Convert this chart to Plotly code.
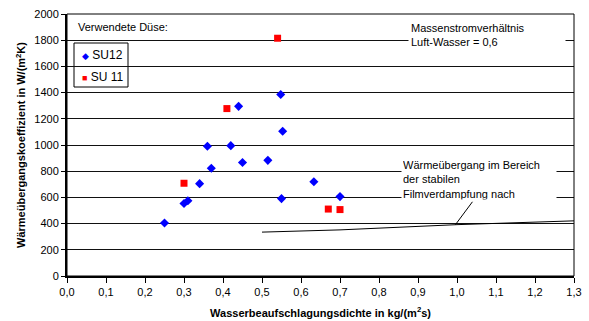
import plotly.graph_objects as go

# SU12 data (blue diamonds)
su12_x = [0.25, 0.30, 0.31, 0.34, 0.36, 0.37, 0.42, 0.44, 0.45, 0.515, 0.548, 0.55, 0.553, 0.633, 0.70]
su12_y = [405, 553, 575, 705, 990, 822, 995, 1295, 866, 883, 1385, 591, 1105, 720, 606]

# SU 11 data (red squares)
su11_x = [0.30, 0.41, 0.54, 0.67, 0.70]
su11_y = [708, 1278, 1815, 511, 507]

# Film boiling reference curve
film_x = [0.5, 0.7, 1.0, 1.3]
film_y = [335, 352, 392, 421]

x_ticks = [0.0, 0.1, 0.2, 0.3, 0.4, 0.5, 0.6, 0.7, 0.8, 0.9, 1.0, 1.1, 1.2, 1.3]
y_ticks = [0, 200, 400, 600, 800, 1000, 1200, 1400, 1600, 1800, 2000]

FONT = "Liberation Sans, Arial, sans-serif"

fig = go.Figure()
fig.add_trace(go.Scatter(
    x=film_x, y=film_y, mode="lines", line=dict(color="black", width=1),
    showlegend=False, hoverinfo="skip"))
fig.add_trace(go.Scatter(
    x=su12_x, y=su12_y, mode="markers", name="SU12", showlegend=False,
    marker=dict(symbol="diamond", color="#0000FF", size=7, line=dict(width=0))))
fig.add_trace(go.Scatter(
    x=su11_x, y=su11_y, mode="markers", name="SU 11", showlegend=False,
    marker=dict(symbol="square", color="#FF0000", size=7, line=dict(width=0))))

# plot area in px: left 67, right 574, top 14, bottom 276
def px(x):
    return (x - 67) / 507.0

def py(y):
    return (276 - y) / 262.0

fig.update_layout(
    width=589, height=321,
    margin=dict(l=67, r=15, t=14, b=45),
    paper_bgcolor="white", plot_bgcolor="white",
    separators=",.",
    font=dict(family=FONT, size=11, color="black"),
    showlegend=False,
    xaxis=dict(
        range=[0, 1.3], tickvals=x_ticks, tickformat=".1f",
        showgrid=False, zeroline=False, automargin=False,
        showline=True, linecolor="black", linewidth=2,
        ticks="outside", ticklen=5, tickcolor="black", tickwidth=1,
        title=dict(text="<b>Wasserbeaufschlagungsdichte in kg/(m<sup>2</sup>s)</b>",
                   font=dict(size=11), standoff=12),
    ),
    yaxis=dict(
        range=[0, 2000], tickvals=y_ticks, tickformat="d",
        showgrid=True, gridcolor="#111111", gridwidth=1, zeroline=False,
        automargin=False,
        showline=True, linecolor="black", linewidth=2,
        ticks="outside", ticklen=4, tickcolor="black", tickwidth=1,
        title=dict(text="<b>Wärmeübergangskoeffizient in W/(m<sup>2</sup>K)</b>",
                   font=dict(size=11), standoff=6),
    ),
    shapes=[
        dict(type="rect", xref="paper", yref="paper", x0=0, y0=0, x1=1, y1=1,
             line=dict(color="black", width=1), layer="above"),
        dict(type="line", xref="x", yref="y", x0=0.996, y0=392, x1=1.04, y1=568,
             line=dict(color="black", width=1), layer="above"),
        # legend box
        dict(type="rect", xref="paper", yref="paper",
             x0=px(74), x1=px(128), y0=py(87), y1=py(43),
             line=dict(color="black", width=1), fillcolor="white", layer="between"),
    ],
    annotations=[
        dict(x=0.023, y=1900, xref="x", yref="y", xanchor="left", yanchor="middle",
             text="Verwendete Düse:", showarrow=False, font=dict(size=11)),
        dict(x=px(80), y=py(55), xref="paper", yref="paper", xanchor="left", yanchor="middle",
             text="<span style='color:#0000FF;font-size:9px'>◆</span> SU12",
             showarrow=False, font=dict(size=12)),
        dict(x=px(80), y=py(77), xref="paper", yref="paper", xanchor="left", yanchor="middle",
             text="<span style='color:#FF0000;font-size:9px'>■</span> SU 11",
             showarrow=False, font=dict(size=12)),
        dict(x=0.874, y=1965, xref="x", yref="y", xanchor="left", yanchor="top",
             text="Massenstromverhältnis<br>Luft-Wasser = 0,6", showarrow=False,
             align="left", bgcolor="white", width=152, borderpad=2,
             font=dict(size=11)),
        dict(x=0.856, y=905, xref="x", yref="y", xanchor="left", yanchor="top",
             text="Wärmeübergang im Bereich<br>der stabilen<br>Filmverdampfung nach",
             showarrow=False, align="left", bgcolor="white", width=152, borderpad=1,
             font=dict(size=11)),
    ],
)

fig.write_html("out.html")
